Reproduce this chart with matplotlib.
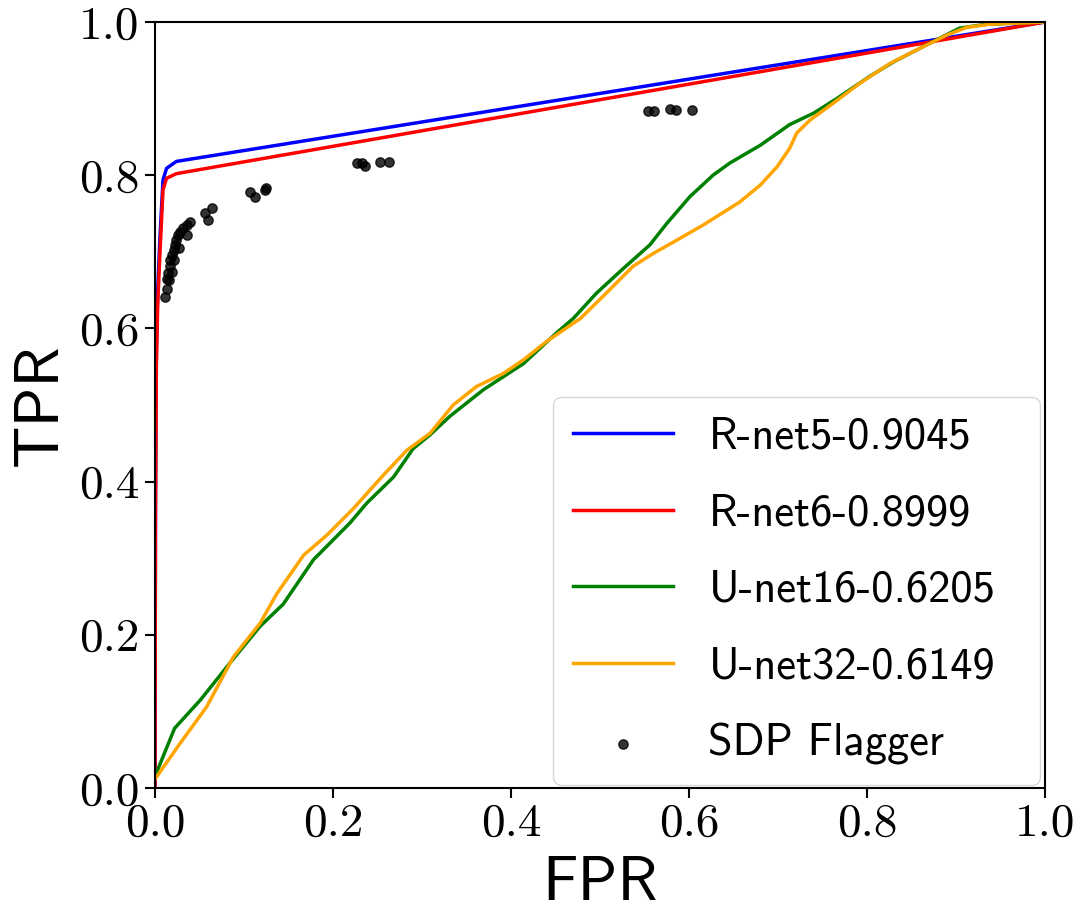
import matplotlib
matplotlib.use('Agg')
import matplotlib.pyplot as plt

# ROC curves
rnet5_fpr = [0.0, 0.0005, 0.0015, 0.003, 0.0056, 0.009, 0.013, 0.024, 1.0]
rnet5_tpr = [0.0, 0.37, 0.57, 0.65, 0.72, 0.794, 0.809, 0.818, 1.0]

rnet6_fpr = [0.0, 0.0005, 0.0015, 0.003, 0.0056, 0.009, 0.013, 0.024, 1.0]
rnet6_tpr = [0.0, 0.35, 0.55, 0.63, 0.70, 0.781, 0.796, 0.802, 1.0]

unet16_fpr = [0.0, 0.002, 0.022, 0.051, 0.084, 0.118, 0.144, 0.178, 0.219, 0.238,
              0.268, 0.290, 0.309, 0.331, 0.369, 0.414, 0.451, 0.470, 0.496,
              0.526, 0.556, 0.575, 0.601, 0.627, 0.646, 0.680, 0.713, 0.740,
              0.766, 0.803, 0.830, 0.860, 0.882, 0.904, 0.934, 1.0]
unet16_tpr = [0.015, 0.021, 0.078, 0.115, 0.163, 0.211, 0.240, 0.298, 0.346, 0.372,
              0.406, 0.443, 0.461, 0.485, 0.520, 0.554, 0.594, 0.613, 0.646,
              0.678, 0.709, 0.737, 0.772, 0.800, 0.816, 0.839, 0.866, 0.881,
              0.900, 0.929, 0.948, 0.966, 0.979, 0.992, 0.997, 1.0]

unet32_fpr = [0.0, 0.002, 0.028, 0.058, 0.088, 0.118, 0.137, 0.167, 0.193, 0.223,
              0.257, 0.283, 0.309, 0.335, 0.361, 0.391, 0.414, 0.440, 0.478,
              0.507, 0.537, 0.560, 0.586, 0.616, 0.657, 0.680, 0.699, 0.713,
              0.721, 0.736, 0.762, 0.792, 0.826, 0.860, 0.890, 0.912, 0.938, 1.0]
unet32_tpr = [0.012, 0.015, 0.058, 0.106, 0.171, 0.215, 0.254, 0.304, 0.330, 0.365,
              0.409, 0.441, 0.463, 0.500, 0.524, 0.541, 0.559, 0.583, 0.613,
              0.646, 0.681, 0.698, 0.715, 0.735, 0.765, 0.787, 0.811, 0.835,
              0.855, 0.872, 0.894, 0.920, 0.946, 0.966, 0.983, 0.993, 0.997, 1.0]

# SDP Flagger operating points
sdp_fpr = [0.011, 0.013, 0.013, 0.015, 0.016, 0.017, 0.017, 0.019, 0.019, 0.021,
           0.021, 0.022, 0.024, 0.026, 0.027, 0.028, 0.032, 0.036, 0.036, 0.039,
           0.056, 0.060, 0.064, 0.107, 0.112, 0.124, 0.125,
           0.227, 0.233, 0.236, 0.253, 0.263,
           0.554, 0.561, 0.579, 0.585, 0.603]
sdp_tpr = [0.641, 0.652, 0.665, 0.672, 0.663, 0.681, 0.689, 0.696, 0.674, 0.702,
           0.689, 0.709, 0.715, 0.722, 0.705, 0.726, 0.731, 0.735, 0.722, 0.739,
           0.751, 0.742, 0.757, 0.778, 0.772, 0.781, 0.783,
           0.816, 0.816, 0.812, 0.817, 0.817,
           0.884, 0.884, 0.887, 0.885, 0.885]

labels = ['R-net5-0.9045', 'R-net6-0.8999', 'U-net16-0.6205', 'U-net32-0.6149', 'SDP Flagger']
ticks = [0.0, 0.2, 0.4, 0.6, 0.8, 1.0]
tick_labels = ['0.0', '0.2', '0.4', '0.6', '0.8', '1.0']

fig = plt.figure(figsize=(10.78, 9.16), dpi=100)
ax = fig.add_axes([0.1438, 0.1397, 0.8256, 0.8363])

ax.plot(rnet5_fpr, rnet5_tpr, color='blue', lw=2.5, label=labels[0])
ax.plot(rnet6_fpr, rnet6_tpr, color='red', lw=2.5, label=labels[1])
ax.plot(unet16_fpr, unet16_tpr, color='green', lw=2.5, label=labels[2])
ax.plot(unet32_fpr, unet32_tpr, color='orange', lw=2.5, label=labels[3])
ax.scatter(sdp_fpr, sdp_tpr, s=45, color='black', alpha=0.8, label=labels[4], zorder=3)

ax.set_xlim(0, 1)
ax.set_ylim(0, 1)
ax.set_xticks(ticks)
ax.set_yticks(ticks)
ax.set_xticklabels(tick_labels, fontfamily='cmr10', fontsize=34)
ax.set_yticklabels(tick_labels, fontfamily='cmr10', fontsize=34)
ax.tick_params(length=7, width=1.5, pad=4)
for sp in ax.spines.values():
    sp.set_linewidth(1.5)

ax.set_xlabel('FPR', fontfamily='cmss10', fontsize=45, labelpad=8)
ax.set_ylabel('TPR', fontfamily='cmss10', fontsize=45, labelpad=8)

ax.legend(loc='lower left', bbox_to_anchor=(0.447, 0.004, 0.547, 0.5), mode='expand',
          borderaxespad=0, prop={'family': 'cmss10', 'size': 32},
          labelspacing=0.8, handlelength=2.25, handletextpad=0.8, borderpad=0.45)

fig.savefig('out.png', dpi=100)
